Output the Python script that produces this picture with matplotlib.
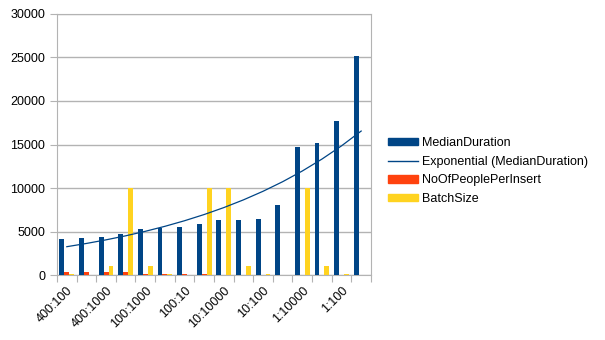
import numpy as np
import matplotlib.pyplot as plt
from matplotlib.patches import Patch
from matplotlib.lines import Line2D

plt.rcParams['font.family'] = ['Liberation Sans', 'DejaVu Sans']

categories = ['400:100', '400:10', '400:1000', '400:10000',
              '100:1000', '100:100', '100:10', '100:10000',
              '10:10000', '10:1000', '10:100', '10:10',
              '1:10000', '1:1000', '1:100', '1:10']
median_duration = [4200, 4270, 4350, 4700, 5340, 5380, 5570, 5880,
                   6300, 6300, 6490, 8000, 14770, 15190, 17750, 25200]
people_per_insert = [400, 400, 400, 400, 100, 100, 100, 100,
                     10, 10, 10, 10, 1, 1, 1, 1]
batch_size = [100, 10, 1000, 10000, 1000, 100, 10, 10000,
              10000, 1000, 100, 10, 10000, 1000, 100, 10]

blue = '#004586'
red = '#ff420e'
yellow = '#ffd320'
grid = '#b3b3b3'

fig = plt.figure(figsize=(6.05, 3.4), dpi=100)
ax = fig.add_axes([0.0942, 0.191, 0.519, 0.768])

x = np.arange(len(categories))
w = 0.25
ax.bar(x - w, median_duration, w, color=blue, zorder=3)
ax.bar(x, people_per_insert, w, color=red, zorder=3)
ax.bar(x + w, batch_size, w, color=yellow, zorder=3)

# exponential trendline fitted to MedianDuration
xs = x + 1
b, lna = np.polyfit(xs, np.log(median_duration), 1)
trend = np.exp(lna) * np.exp(b * xs)
ax.plot(x, trend, color=blue, lw=0.9, zorder=4)

ax.set_xlim(-0.5, len(categories) - 0.5)
ax.set_ylim(0, 30000)
ax.set_yticks(range(0, 30001, 5000))
ax.yaxis.grid(True, color=grid, lw=1, zorder=0)

ax.set_xticks(np.arange(-0.5, len(categories), 1))
ax.set_xticklabels([])
ax.set_xticks(x[::2], minor=True)
ax.set_xticklabels(categories[::2], minor=True, rotation=45,
                   ha='right', rotation_mode='anchor', fontsize=9)
ax.tick_params(axis='x', which='minor', length=0, pad=7)
ax.tick_params(axis='x', which='major', length=5, color=grid)
ax.tick_params(axis='y', length=5, color=grid, labelsize=9)

for s in ax.spines.values():
    s.set_color(grid)

handles = [Patch(color=blue), Line2D([], [], color=blue, lw=1),
           Patch(color=red), Patch(color=yellow)]
labels = ['MedianDuration', 'Exponential (MedianDuration)',
          'NoOfPeoplePerInsert', 'BatchSize']
fig.legend(handles, labels, loc='center left', bbox_to_anchor=(0.622, 0.497),
           frameon=False, fontsize=9, handlelength=2.45, handleheight=0.5,
           handletextpad=0.3, labelspacing=0.55)

fig.savefig('out.png', dpi=100)
